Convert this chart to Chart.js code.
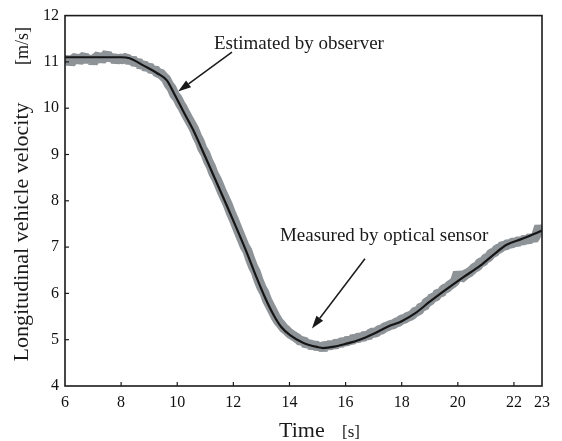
<!DOCTYPE html>
<html>
<head>
<meta charset="utf-8">
<script src="https://cdn.jsdelivr.net/npm/chart.js@4.4.1/dist/chart.umd.min.js"></script>
<style>
  html, body { margin: 0; padding: 0; background: #fff; }
  #wrap { width: 562px; height: 441px; position: relative; }
</style>
</head>
<body>
<div id="wrap"><canvas id="velocity_chart"></canvas></div>
<script>
// observer estimate (black line)
const estT = [6, 7, 8, 8.3, 8.8, 9.3, 9.63, 9.86, 10.2, 10.57, 11.0, 11.4, 11.8, 12.12, 12.5, 12.83, 13.1, 13.42, 13.7, 14.02, 14.5, 15.0, 15.2, 15.6, 16.0, 16.5, 17.0, 17.5, 18.0, 18.5, 19.0, 19.6, 20.2, 20.8, 21.3, 21.74, 22.3, 22.9, 23];
const estV = [11.10, 11.10, 11.10, 11.08, 10.92, 10.75, 10.60, 10.35, 9.95, 9.53, 8.95, 8.40, 7.85, 7.40, 6.85, 6.34, 5.95, 5.55, 5.28, 5.10, 4.93, 4.84, 4.82, 4.85, 4.91, 5.00, 5.13, 5.28, 5.40, 5.58, 5.82, 6.09, 6.35, 6.60, 6.85, 7.05, 7.18, 7.33, 7.36];

// optical sensor (grey band), one reading every 0.1 s from 6.0 s
const measV = [
  11.00, 11.09, 10.96, 11.06, 11.11, 11.01, 11.08, 11.13, 11.02, 11.10,
  10.98, 11.09, 11.14, 11.03, 11.11, 11.18, 11.05, 11.13, 11.01, 11.10,
  11.05, 11.07, 11.10, 11.00, 11.07, 10.96, 11.01, 10.91, 10.96, 10.86,
  10.91, 10.81, 10.85, 10.75, 10.76, 10.69, 10.63, 10.51, 10.43, 10.29,
  10.22, 10.10, 10.00, 9.88, 9.77, 9.66, 9.55, 9.40, 9.28, 9.12,
  9.02, 8.86, 8.74, 8.58, 8.47, 8.33, 8.18, 8.05, 7.92, 7.76,
  7.62, 7.47, 7.32, 7.17, 7.02, 6.92, 6.74, 6.58, 6.46, 6.28,
  6.13, 6.02, 5.86, 5.74, 5.62, 5.50, 5.40, 5.33, 5.25, 5.20,
  5.14, 5.10, 5.06, 5.02, 4.96, 4.99, 4.89, 4.93, 4.85, 4.91,
  4.82, 4.89, 4.79, 4.91, 4.84, 4.93, 4.85, 4.96, 4.89, 4.98,
  4.93, 5.01, 4.96, 5.05, 5.00, 5.08, 5.03, 5.11, 5.07, 5.15,
  5.15, 5.16, 5.21, 5.22, 5.27, 5.29, 5.32, 5.33, 5.37, 5.39,
  5.44, 5.45, 5.49, 5.51, 5.55, 5.62, 5.61, 5.72, 5.71, 5.82,
  5.83, 5.92, 5.91, 6.02, 6.00, 6.10, 6.11, 6.17, 6.21, 6.26,
  6.45, 6.32, 6.37, 6.42, 6.45, 6.50, 6.56, 6.58, 6.67, 6.68,
  6.76, 6.78, 6.87, 6.88, 6.96, 6.97, 7.04, 7.02, 7.09, 7.05,
  7.13, 7.08, 7.16, 7.11, 7.19, 7.13, 7.23, 7.16, 7.26, 7.45,
  7.28
];
const measT = measV.map((_, i) => Math.round((6 + i * 0.1) * 10) / 10);

const xTicks = [6, 8, 10, 12, 14, 16, 18, 20, 22, 23];

// annotation anchors in data units: [text t, text v, arrow tail t, v, arrow tip t, v]
const noteObserver = ['Estimated by observer', 11.31, 11.27, 11.95, 11.21, 10.03, 10.36];
const noteSensor = ['Measured by optical sensor', 13.66, 7.14, 16.69, 6.75, 14.80, 5.24];

const serif = "'Liberation Serif', 'Times New Roman', serif";
Chart.defaults.font.family = serif;
Chart.defaults.color = '#111';

function arrow(ctx, x0, y0, x1, y1) {
  const ang = Math.atan2(y1 - y0, x1 - x0);
  const len = 13, half = 4.2;
  const bx = x1 - len * Math.cos(ang), by = y1 - len * Math.sin(ang);
  ctx.beginPath();
  ctx.moveTo(x0, y0);
  ctx.lineTo(bx, by);
  ctx.stroke();
  ctx.beginPath();
  ctx.moveTo(x1, y1);
  ctx.lineTo(bx + half * Math.sin(ang), by - half * Math.cos(ang));
  ctx.lineTo(bx - half * Math.sin(ang), by + half * Math.cos(ang));
  ctx.closePath();
  ctx.fill();
}

const decor = {
  id: 'decor',
  afterDraw(chart) {
    const { ctx, chartArea: a, scales: { x, y } } = chart;
    ctx.save();
    ctx.strokeStyle = '#1a1a1a';
    ctx.fillStyle = '#1a1a1a';
    ctx.lineWidth = 1.6;
    ctx.strokeRect(a.left, a.top, a.right - a.left, a.bottom - a.top);

    // inward tick marks
    ctx.lineWidth = 1.2;
    x.ticks.forEach(t => {
      const px = x.getPixelForValue(t.value);
      if (px > a.left + 2 && px < a.right - 2) {
        ctx.beginPath(); ctx.moveTo(px, a.bottom); ctx.lineTo(px, a.bottom - 4); ctx.stroke();
      }
    });
    y.ticks.forEach(t => {
      const py = y.getPixelForValue(t.value);
      if (py > a.top + 2 && py < a.bottom - 2) {
        ctx.beginPath(); ctx.moveTo(a.left, py); ctx.lineTo(a.left + 4, py); ctx.stroke();
      }
    });

    // annotations
    ctx.font = '19px ' + serif;
    ctx.textAlign = 'left';
    ctx.textBaseline = 'alphabetic';
    ctx.lineWidth = 1.5;
    [noteObserver, noteSensor].forEach(n => {
      ctx.fillText(n[0], x.getPixelForValue(n[1]), y.getPixelForValue(n[2]));
      arrow(ctx, x.getPixelForValue(n[3]), y.getPixelForValue(n[4]),
                 x.getPixelForValue(n[5]), y.getPixelForValue(n[6]));
    });

    // axis titles
    ctx.font = '22px ' + serif;
    ctx.fillText('Time', 279, 437);
    ctx.font = '17px ' + serif;
    ctx.fillText('[s]', 342, 437);

    ctx.save();
    ctx.translate(22, 232);
    ctx.rotate(-Math.PI / 2);
    ctx.textAlign = 'center';
    ctx.textBaseline = 'middle';
    ctx.font = '22px ' + serif;
    ctx.fillText('Longitudinal vehicle velocity', 0, 0);
    ctx.restore();

    ctx.save();
    ctx.translate(23, 46);
    ctx.rotate(-Math.PI / 2);
    ctx.textAlign = 'center';
    ctx.textBaseline = 'middle';
    ctx.font = '18px ' + serif;
    ctx.fillText('[m/s]', 0, 0);
    ctx.restore();

    ctx.restore();
  }
};

const chart1 = document.getElementById('velocity_chart');

new Chart(chart1, {
  type: 'line',
  data: {
    datasets: [{
      label: 'Estimated by observer',
      data: estT.map((t, i) => ({ x: t, y: estV[i] })),
      borderColor: '#151515',
      borderWidth: 2.2,
      pointRadius: 0,
      cubicInterpolationMode: 'monotone',
      clip: 0
    }, {
      label: 'Measured by optical sensor',
      data: measT.map((t, i) => ({ x: t, y: measV[i] })),
      borderColor: 'rgb(142, 147, 152)',
      borderWidth: 10,
      borderJoinStyle: 'bevel',
      pointRadius: 0,
      tension: 0,
      clip: 0
    }]
  },
  options: {
    responsive: true,
    maintainAspectRatio: false,
    animation: false,
    layout: { padding: { left: 0, top: 11, right: 20, bottom: 0 } },
    plugins: {
      legend: { display: false },
      tooltip: { enabled: false }
    },
    scales: {
      x: {
        type: 'linear',
        min: 6,
        max: 23,
        afterBuildTicks: s => { s.ticks = xTicks.map(v => ({ value: v })); },
        afterFit: s => { s.height = 55; },
        grid: { display: false, drawTicks: false },
        border: { display: false },
        ticks: { font: { size: 16 }, color: '#111', padding: 7, maxRotation: 0 }
      },
      y: {
        min: 4,
        max: 12,
        afterFit: s => { s.width = 65; },
        grid: { display: false, drawTicks: false },
        border: { display: false },
        ticks: { stepSize: 1, font: { size: 16 }, color: '#111', padding: 6 }
      }
    }
  },
  plugins: [decor]
});
</script>
</body>
</html>
